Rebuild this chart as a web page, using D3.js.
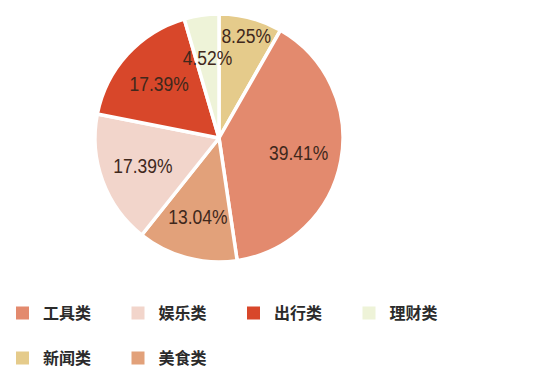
<!DOCTYPE html>
<html><head><meta charset="utf-8">
<script src="https://cdn.jsdelivr.net/npm/d3@7/dist/d3.min.js"></script>
<style>html,body{margin:0;padding:0;background:#fff;}svg{display:block;}</style>
</head><body><svg id="c" width="556" height="379"></svg>
<script>
const categories = ["新闻类","工具类","美食类","娱乐类","出行类","理财类"];
const values = [8.25, 39.41, 13.04, 17.39, 17.39, 4.52];
const colors = ["#E5CB8B","#E38A6E","#E2A17A","#F2D5CB","#D8472A","#EEF3D8"];
const legendOrder = ["工具类","娱乐类","出行类","理财类","新闻类","美食类"];

const svg = d3.select("#c");
const cx = 219, cy = 138, R = 124;
const data = categories.map((c,i)=>({cat:c, value:values[i], color:colors[i]}));
const pie = d3.pie().value(d=>d.value).sort(null);
const arc = d3.arc().innerRadius(0).outerRadius(R);
const g = svg.append("g").attr("transform",`translate(${cx},${cy})`);
const arcs = pie(data);
g.selectAll("path").data(arcs).join("path")
  .attr("d",arc).attr("fill",d=>d.data.color)
  .attr("stroke","#fff").attr("stroke-width",3.5).attr("stroke-linejoin","round");

// label placement: centroid at base radius, pushed outward on collision
const baseR = 81, tw = 60, th = 22;
const placed = [];
const order = legendOrder.map(n=>arcs.find(a=>a.data.cat===n));
order.forEach(a=>{
  let r = baseR, x, y;
  for(;;){
    const c = d3.arc().innerRadius(r).outerRadius(r).centroid(a);
    x = c[0]; y = c[1];
    const hit = placed.some(p=>Math.abs(p.x-x)<tw && Math.abs(p.y-y)<th);
    if(!hit || r > R) break;
    r += 1;
  }
  placed.push({x,y,a});
});
g.selectAll("text").data(placed).join("text")
  .attr("transform",d=>`translate(${d.x},${d.y}) scale(1,1.18)`)
  .attr("text-anchor","middle").attr("dy","0.36em")
  .attr("font-family","'Liberation Sans',Arial,sans-serif")
  .attr("font-size",17.5).attr("fill","#40281c")
  .text(d=>d.a.data.value.toFixed(2)+"%");

const colX = d3.scaleBand().domain(d3.range(4)).range([16, 478]);
const rowY = d3.scalePoint().domain([0,1]).range([313, 358]);
const lg = svg.append("g");
legendOrder.forEach((name,i)=>{
  const col = i%4, row = Math.floor(i/4);
  const d = data.find(x=>x.cat===name);
  const x = colX(col), y = rowY(row);
  lg.append("rect").attr("x",x).attr("y",y-6.5).attr("width",13).attr("height",13).attr("fill",d.color);
  lg.append("text").attr("x",x+27).attr("y",y).attr("dy","0.36em")
    .attr("font-family","'Noto Sans CJK SC',sans-serif").attr("font-weight","bold")
    .attr("font-size",16).attr("fill","#2b2b2b").text(name);
});
</script></body></html>
